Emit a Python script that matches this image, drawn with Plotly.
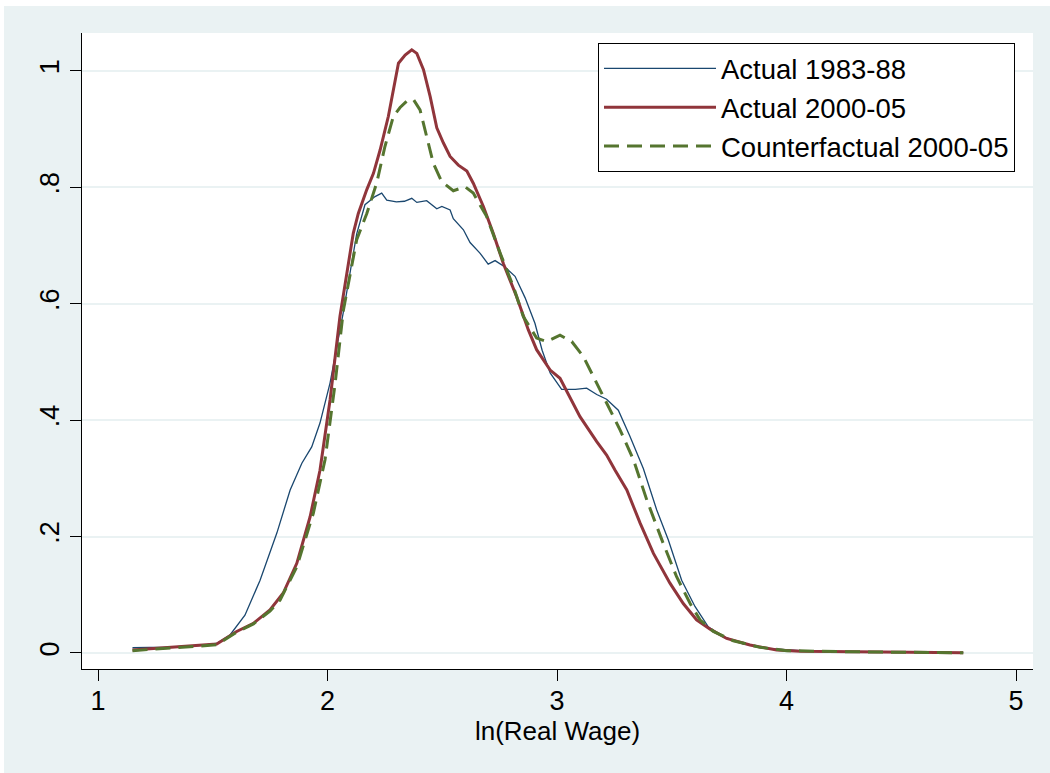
import plotly.graph_objects as go

# ---- data ----
x_1983 = [1.15, 1.30, 1.45, 1.52, 1.575, 1.64, 1.706, 1.779, 1.837, 1.888, 1.931, 1.967, 2.011,
          2.068, 2.127, 2.163, 2.207, 2.236, 2.258, 2.30, 2.335, 2.367, 2.389, 2.432, 2.476,
          2.498, 2.534, 2.548, 2.592, 2.621, 2.664, 2.70, 2.73, 2.773, 2.817, 2.861, 2.904,
          2.935, 2.97, 3.02, 3.08, 3.129, 3.173, 3.216, 3.267, 3.318, 3.376, 3.434, 3.485,
          3.543, 3.601, 3.659, 3.725, 3.812, 3.914, 4.059, 4.30, 4.55, 4.77]
y_1983 = [0.009, 0.010, 0.013, 0.017, 0.031, 0.065, 0.125, 0.206, 0.280, 0.326, 0.354, 0.395, 0.464,
          0.584, 0.720, 0.770, 0.784, 0.790, 0.778, 0.775, 0.776, 0.781, 0.774, 0.777, 0.763,
          0.767, 0.761, 0.746, 0.727, 0.705, 0.687, 0.668, 0.674, 0.663, 0.647, 0.610, 0.566,
          0.520, 0.481, 0.453, 0.453, 0.455, 0.444, 0.436, 0.417, 0.372, 0.317, 0.246, 0.194,
          0.125, 0.080, 0.045, 0.028, 0.0155, 0.008, 0.004, 0.002, 0.001, 0.0005]

x_2000 = [1.15, 1.357, 1.517, 1.604, 1.677, 1.749, 1.807, 1.866, 1.924, 1.967, 2.011, 2.054,
          2.112, 2.134, 2.171, 2.20, 2.229, 2.265, 2.309, 2.338, 2.367, 2.389, 2.418, 2.447,
          2.476, 2.505, 2.534, 2.57, 2.607, 2.635, 2.679, 2.722, 2.766, 2.824, 2.875, 2.911,
          2.97, 3.013, 3.10, 3.173, 3.216, 3.253, 3.304, 3.362, 3.42, 3.492, 3.55, 3.608,
          3.667, 3.739, 3.841, 3.957, 4.06, 4.30, 4.55, 4.77]
y_2000 = [0.005, 0.011, 0.0155, 0.037, 0.051, 0.074, 0.103, 0.154, 0.234, 0.314, 0.435, 0.578,
          0.721, 0.755, 0.796, 0.824, 0.864, 0.922, 1.013, 1.027, 1.036, 1.030, 1.002, 0.956,
          0.902, 0.876, 0.853, 0.838, 0.828, 0.807, 0.767, 0.721, 0.669, 0.612, 0.555, 0.521,
          0.486, 0.472, 0.406, 0.363, 0.340, 0.314, 0.280, 0.223, 0.171, 0.120, 0.085, 0.057,
          0.041, 0.025, 0.0137, 0.005, 0.003, 0.002, 0.001, 0.0003]

x_cf = [1.15, 1.357, 1.517, 1.604, 1.677, 1.749, 1.793, 1.866, 1.938, 1.989, 2.033, 2.069,
        2.127, 2.171, 2.214, 2.25, 2.287, 2.316, 2.345, 2.374, 2.403, 2.432, 2.461, 2.497,
        2.548, 2.599, 2.635, 2.693, 2.752, 2.81, 2.853, 2.911, 2.955, 3.013, 3.064, 3.115,
        3.158, 3.216, 3.275, 3.333, 3.391, 3.463, 3.521, 3.58, 3.623, 3.681, 3.768, 3.884,
        4.0, 4.30, 4.55, 4.77]
y_cf = [0.004, 0.009, 0.014, 0.036, 0.050, 0.072, 0.091, 0.148, 0.240, 0.332, 0.463, 0.589,
        0.710, 0.755, 0.807, 0.870, 0.922, 0.937, 0.948, 0.951, 0.933, 0.887, 0.841, 0.810,
        0.794, 0.801, 0.790, 0.750, 0.687, 0.629, 0.578, 0.541, 0.535, 0.546, 0.535, 0.509,
        0.475, 0.429, 0.383, 0.332, 0.263, 0.188, 0.131, 0.085, 0.057, 0.037, 0.021, 0.0097,
        0.004, 0.002, 0.001, 0.0003]

series_names = ["Actual 1983-88", "Actual 2000-05", "Counterfactual 2000-05"]
x_ticks = [1, 2, 3, 4, 5]
y_ticks = [0, 0.2, 0.4, 0.6, 0.8, 1]
y_tick_text = ["0", ".2", ".4", ".6", ".8", "1"]
x_title = "ln(Real Wage)"

FONT = "Liberation Sans, Arial, Helvetica, sans-serif"
BG = "#eaf2f3"

fig = go.Figure()
fig.add_trace(go.Scatter(x=x_1983, y=y_1983, mode="lines", name=series_names[0],
                         line=dict(color="#1a476f", width=1.3)))
fig.add_trace(go.Scatter(x=x_2000, y=y_2000, mode="lines", name=series_names[1],
                         line=dict(color="#90353b", width=3)))
fig.add_trace(go.Scatter(x=x_cf, y=y_cf, mode="lines", name=series_names[2],
                         line=dict(color="#55752f", width=3, dash="15px,8px")))

# figure placed at (4, 6) in the window; plot area spans x 82..1033, y 33..669 in window pixels
fig.update_layout(
    width=1046, height=767,
    margin=dict(l=78, r=17, t=27, b=104),
    paper_bgcolor=BG, plot_bgcolor="white",
    font=dict(family=FONT, color="black", size=26),
    showlegend=True,
    legend=dict(x=(598 - 82) / 951, y=1 - (43 - 33) / 636, xanchor="left", yanchor="top",
                bgcolor="white", bordercolor="black", borderwidth=1,
                font=dict(size=27.5, family=FONT), itemwidth=112),
    xaxis=dict(range=[0.930, 5.074], tickvals=x_ticks, ticktext=[str(v) for v in x_ticks],
               showgrid=False, zeroline=False, showline=True, linecolor="black", linewidth=1,
               ticks="outside", ticklen=11, tickcolor="black", tickwidth=1, ticklabelstandoff=-3,
               tickfont=dict(size=27), title=dict(text=x_title, font=dict(size=26), standoff=0)),
    yaxis=dict(range=[-0.0275, 1.065], tickvals=y_ticks, ticktext=y_tick_text,
               showgrid=True, gridcolor=BG, gridwidth=2, zeroline=False,
               showline=True, linecolor="black", linewidth=1,
               ticks="outside", ticklen=11, tickcolor="black", tickwidth=1,
               tickangle=-90, tickfont=dict(size=27)),
)

fig.write_html("out.html", post_script="document.body.style.margin='6px 0 0 4px';")
